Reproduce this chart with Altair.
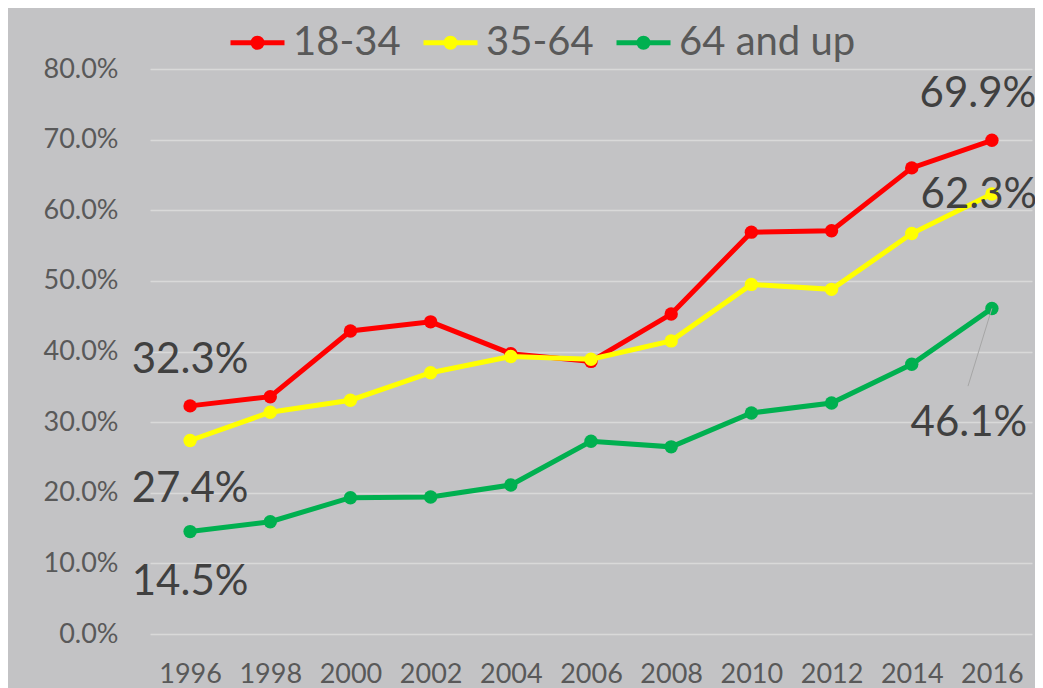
import altair as alt
import pandas as pd

years = [1996, 1998, 2000, 2002, 2004, 2006, 2008, 2010, 2012, 2014, 2016]
series_names = ["18-34", "35-64", "64 and up"]
v_18_34 = [32.3, 33.6, 42.9, 44.2, 39.7, 38.6, 45.3, 56.9, 57.1, 66.0, 69.9]
v_35_64 = [27.4, 31.4, 33.1, 37.0, 39.3, 38.9, 41.5, 49.5, 48.8, 56.7, 62.3]
v_64_up = [14.5, 15.9, 19.3, 19.4, 21.1, 27.3, 26.5, 31.3, 32.7, 38.2, 46.1]
colors = ["#ff0000", "#ffff00", "#00b050"]
y_ticks = [0.0, 0.1, 0.2, 0.3, 0.4, 0.5, 0.6, 0.7, 0.8]

all_values = [v_18_34, v_35_64, v_64_up]
rows = []
for name, vals in zip(series_names, all_values):
    for yr, v in zip(years, vals):
        rows.append({"year": yr, "value": v / 100.0, "series": name})
df = pd.DataFrame(rows)

FONT = "Lato"
x_enc = alt.X("year:O", scale=alt.Scale(type="point", padding=0.5),
              axis=alt.Axis(labelAngle=0, domain=False, ticks=False, grid=False,
                            labelPadding=27, labelFont=FONT, labelFontSize=27,
                            labelColor="#595959", title=None))
y_enc = alt.Y("value:Q", scale=alt.Scale(domain=[0, 0.8], nice=False),
              axis=alt.Axis(format=".1%", values=y_ticks, grid=True, gridColor="#d9d9d9",
                            gridWidth=1.5, domain=False, ticks=False, tickSize=0,
                            labelPadding=32, labelFont=FONT, labelFontSize=27,
                            labelColor="#595959", title=None))

cscale = alt.Scale(domain=series_names, range=colors)
legend = alt.Legend(
    orient="none", legendX=78, legendY=-56, direction="horizontal", title=None,
    labelFont=FONT, labelFontSize=40, labelColor="#595959", labelLimit=400,
    symbolType="M-1,0L1,0M0.17,0A0.17,0.17,0,1,1,-0.17,0A0.17,0.17,0,1,1,0.17,0Z",
    symbolSize=2916, symbolStrokeWidth=5, labelOffset=6, columnPadding=12, padding=0,
)

layers = []
for name in series_names:
    sub = alt.Chart(df).transform_filter(alt.datum.series == name)
    line = sub.mark_line(strokeWidth=5).encode(
        x=x_enc, y=y_enc, color=alt.Color("series:N", scale=cscale, legend=legend))
    pts = sub.mark_point(filled=True, size=180, strokeWidth=1, opacity=1).encode(
        x=x_enc, y=y_enc,
        fill=alt.Fill("series:N", scale=cscale, legend=legend))
    layers += [line, pts]

# data labels (first and last values)
label_specs = [
    (years[0], v_18_34[0], 0, -46),
    (years[0], v_35_64[0], 0, 49),
    (years[0], v_64_up[0], 0, 50),
    (years[-1], v_18_34[-1], -14, -46),
    (years[-1], v_35_64[-1], -13, 1),
    (years[-1], v_64_up[-1], -23, 115),
]
for yr, v, dx, dy in label_specs:
    ldf = pd.DataFrame({"year": [yr], "value": [v / 100.0], "label": [f"{v:.1f}%"]})
    layers.append(
        alt.Chart(ldf).mark_text(font=FONT, fontSize=42, color="#404040", align="center",
                                 baseline="middle", dx=dx, dy=dy)
        .encode(x=x_enc, y=y_enc, text="label:N"))

# leader line for last 64+ label
leader = pd.DataFrame({"year": [years[-1]], "value": [v_64_up[-1] / 100.0], "end": [0.351]})
layers.append(
    alt.Chart(leader).mark_rule(color="#a6a6a6", strokeWidth=1)
    .encode(x=x_enc, y=y_enc, x2=alt.value(818), y2="end:Q"))

chart = alt.layer(*layers).properties(
    width=882, height=565,
    padding={"left": 142, "top": 61, "right": 3, "bottom": 54},
    autosize=alt.AutoSizeParams(type="none"),
    background="#c3c3c5",
).configure_view(stroke=None)

chart.save("out.html", embed_options={"renderer": "svg", "actions": False})
